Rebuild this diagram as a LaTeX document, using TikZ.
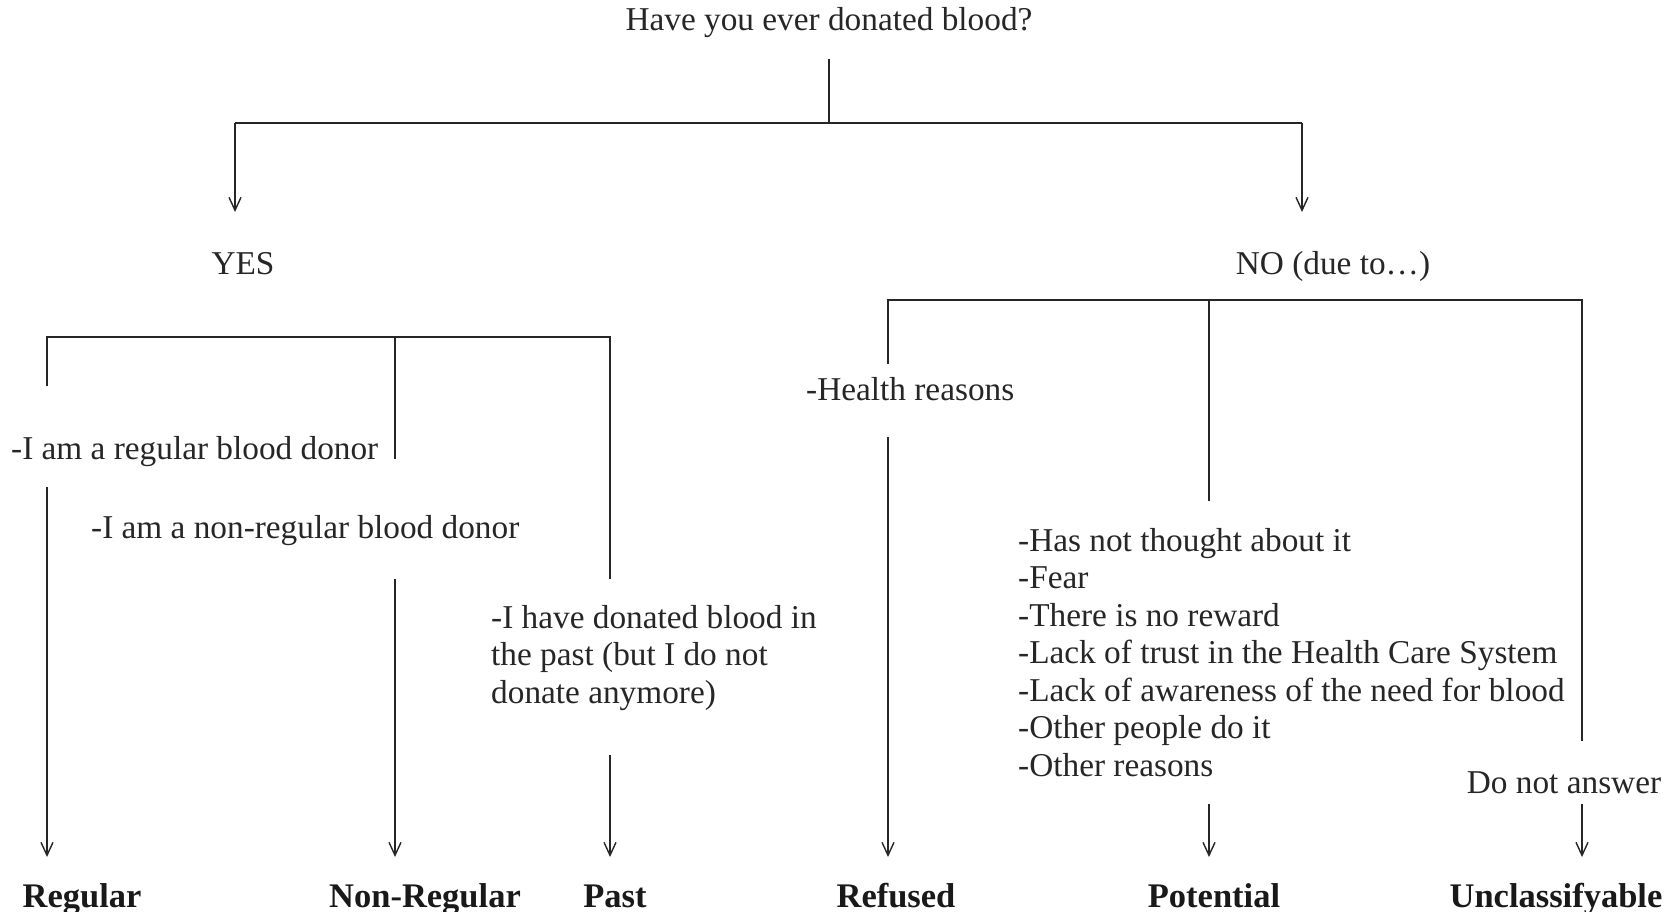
\documentclass[tikz,border=0pt]{standalone}
\usepackage{fontspec}
\setmainfont{Liberation Serif}
\usetikzlibrary{arrows.meta}
\begin{document}
\begin{tikzpicture}[x=1pt,y=-1pt,
  ln/.style={line width=1.5pt,black!85},
  arr/.style={ln,-{Straight Barb[length=13pt,width=12pt,line width=1.4pt]}},
  txt/.style={inner sep=0pt,font=\fontsize{33.3}{37.5}\selectfont,text=black!85},
  lbl/.style={inner sep=0pt,anchor=base,font=\fontsize{34.5}{38}\selectfont\bfseries,text=black!90},
]
\useasboundingbox (0,0) rectangle (1680,912);

% texts
\node[txt,anchor=base] (q) at (829,31) {Have you ever donated blood?};
\node[txt,anchor=base] (yes) at (243,274) {YES};
\node[txt,anchor=base] (no) at (1333,274) {NO (due to\dots)};
\node[txt,anchor=base west] (reg) at (11,459) {-I am a regular blood donor};
\node[txt,anchor=base west] (nonreg) at (91,538) {-I am a non-regular blood donor};
\node[txt,anchor=north west,align=left] (past) at (491,605) {-I have donated blood in\\the past (but I do not\\donate anymore)};
\node[txt,anchor=base west] (health) at (806,400) {-Health reasons};
\node[txt,anchor=north west,align=left] (reasons) at (1018,528) {-Has not thought about it\\-Fear\\-There is no reward\\-Lack of trust in the Health Care System\\-Lack of awareness of the need for blood\\-Other people do it\\-Other reasons};
\node[txt,anchor=base] (dna) at (1564,793) {Do not answer};

\node[lbl] (cReg) at (82,907) {Regular};
\node[lbl] (cNon) at (425,907) {Non-Regular};
\node[lbl] (cPast) at (615,907) {Past};
\node[lbl] (cRef) at (896,907) {Refused};
\node[lbl] (cPot) at (1214,907) {Potential};
\node[lbl] (cUnc) at (1556,907) {Unclassifyable};

% junction coordinates
\coordinate (q0) at (829,59);
\coordinate (qj) at (829,123);
\coordinate (yL) at (235,123);
\coordinate (yE) at (235,212);
\coordinate (nR) at (1302,123);
\coordinate (nE) at (1302,212);

\coordinate (a1) at (47,386);
\coordinate (a2) at (47,337);
\coordinate (a3) at (610,337);
\coordinate (a4) at (610,579);
\coordinate (b1) at (395,337);
\coordinate (b2) at (395,459);

\coordinate (r1s) at (47,487);
\coordinate (r1e) at (47,857);
\coordinate (r2s) at (395,579);
\coordinate (r2e) at (395,857);
\coordinate (r3s) at (610,755);
\coordinate (r3e) at (610,857);

\coordinate (c1) at (888,364);
\coordinate (c2) at (888,300);
\coordinate (c3) at (1582,300);
\coordinate (c4) at (1582,741);
\coordinate (d1) at (1209,300);
\coordinate (d2) at (1209,501);

\coordinate (r4s) at (888,437);
\coordinate (r4e) at (888,857);
\coordinate (r5s) at (1209,804);
\coordinate (r5e) at (1209,857);
\coordinate (r6s) at (1582,804);
\coordinate (r6e) at (1582,857);

% connectors
\draw[ln] (q0) -- (qj);
\draw[ln] (yL) -- (nR);
\draw[arr] (yL) -- (yE);
\draw[arr] (nR) -- (nE);

\draw[ln] (a1) -- (a2) -- (a3) -- (a4);
\draw[ln] (b1) -- (b2);
\draw[arr] (r1s) -- (r1e);
\draw[arr] (r2s) -- (r2e);
\draw[arr] (r3s) -- (r3e);

\draw[ln] (c1) -- (c2) -- (c3) -- (c4);
\draw[ln] (d1) -- (d2);
\draw[arr] (r4s) -- (r4e);
\draw[arr] (r5s) -- (r5e);
\draw[arr] (r6s) -- (r6e);
\end{tikzpicture}
\end{document}
